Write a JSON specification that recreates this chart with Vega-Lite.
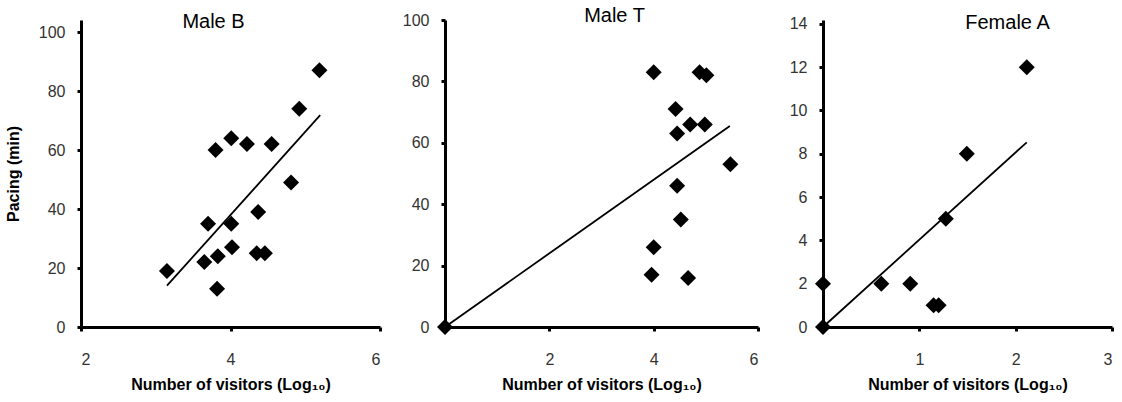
{
  "$schema": "https://vega.github.io/schema/vega-lite/v6.json",
  "background": "white",
  "padding": {"left": 5, "top": 6, "right": 5, "bottom": 5},
  "spacing": 65,
  "bounds": "flush",
  "datasets": {
    "maleB": [
      {"visitors": 3.15, "pacing": 19}, {"visitors": 3.65, "pacing": 22}, {"visitors": 3.70, "pacing": 35},
      {"visitors": 3.80, "pacing": 60}, {"visitors": 3.83, "pacing": 24}, {"visitors": 3.82, "pacing": 13},
      {"visitors": 4.01, "pacing": 64}, {"visitors": 4.01, "pacing": 35}, {"visitors": 4.02, "pacing": 27},
      {"visitors": 4.22, "pacing": 62}, {"visitors": 4.37, "pacing": 39}, {"visitors": 4.35, "pacing": 25},
      {"visitors": 4.46, "pacing": 25}, {"visitors": 4.55, "pacing": 62}, {"visitors": 4.81, "pacing": 49},
      {"visitors": 4.92, "pacing": 74}, {"visitors": 5.19, "pacing": 87}
    ],
    "maleT": [
      {"visitors": 0, "pacing": 0}, {"visitors": 4.00, "pacing": 83}, {"visitors": 4.88, "pacing": 83},
      {"visitors": 5.01, "pacing": 82}, {"visitors": 4.42, "pacing": 71}, {"visitors": 4.45, "pacing": 63},
      {"visitors": 4.70, "pacing": 66}, {"visitors": 4.98, "pacing": 66}, {"visitors": 5.47, "pacing": 53},
      {"visitors": 4.45, "pacing": 46}, {"visitors": 4.52, "pacing": 35}, {"visitors": 4.00, "pacing": 26},
      {"visitors": 3.96, "pacing": 17}, {"visitors": 4.66, "pacing": 16}
    ],
    "femaleA": [
      {"visitors": 0, "pacing": 0}, {"visitors": 0, "pacing": 2}, {"visitors": 0.605, "pacing": 2},
      {"visitors": 0.906, "pacing": 2}, {"visitors": 1.148, "pacing": 1}, {"visitors": 1.20, "pacing": 1},
      {"visitors": 1.275, "pacing": 5}, {"visitors": 1.493, "pacing": 8}, {"visitors": 2.115, "pacing": 12}
    ],
    "trendB": [{"visitors": 3.15, "pacing": 14.0}, {"visitors": 5.20, "pacing": 71.8}],
    "trendT": [{"visitors": 0, "pacing": 0}, {"visitors": 5.46, "pacing": 65.5}],
    "trendA": [{"visitors": 0, "pacing": 0}, {"visitors": 2.115, "pacing": 8.53}]
  },
  "hconcat": [
    {
      "width": 299, "height": 307,
      "title": {"text": "Male B", "dx": -17, "offset": 0, "dy": 11.5},
      "layer": [
        {
          "data": {"name": "trendB"},
          "mark": {"type": "line", "color": "black", "strokeWidth": 1.8},
          "encoding": {
            "x": {"field": "visitors", "type": "quantitative", "scale": {"domain": [2, 6], "nice": false}},
            "y": {"field": "pacing", "type": "quantitative", "scale": {"domain": [0, 104.07], "nice": false}}
          }
        },
        {
          "data": {"name": "maleB"},
          "mark": {"type": "point", "shape": "diamond", "filled": true, "color": "black", "opacity": 1, "size": 256, "clip": false},
          "encoding": {
            "x": {"field": "visitors", "type": "quantitative",
                  "axis": {"values": [2, 4, 6], "format": "d", "title": "Number of visitors (Log₁₀)"}},
            "y": {"field": "pacing", "type": "quantitative",
                  "axis": {"values": [0, 20, 40, 60, 80, 100], "format": "d", "title": "Pacing (min)"}}
          }
        }
      ]
    },
    {
      "width": 313, "height": 307,
      "title": {"text": "Male T", "dx": 13, "offset": 0, "dy": 14},
      "layer": [
        {
          "data": {"name": "trendT"},
          "mark": {"type": "line", "color": "black", "strokeWidth": 1.8},
          "encoding": {
            "x": {"field": "visitors", "type": "quantitative", "scale": {"domain": [0, 6], "nice": false}},
            "y": {"field": "pacing", "type": "quantitative", "scale": {"domain": [0, 100], "nice": false}}
          }
        },
        {
          "data": {"name": "maleT"},
          "mark": {"type": "point", "shape": "diamond", "filled": true, "color": "black", "opacity": 1, "size": 256, "clip": false},
          "encoding": {
            "x": {"field": "visitors", "type": "quantitative",
                  "axis": {"values": [2, 4, 6], "format": "d", "title": "Number of visitors (Log₁₀)"}},
            "y": {"field": "pacing", "type": "quantitative",
                  "axis": {"values": [0, 20, 40, 60, 80, 100], "format": "d", "title": null}}
          }
        }
      ]
    },
    {
      "width": 289, "height": 307,
      "title": {"text": "Female A", "dx": 40, "offset": 0, "dy": 17.5},
      "layer": [
        {
          "data": {"name": "trendA"},
          "mark": {"type": "line", "color": "black", "strokeWidth": 1.8},
          "encoding": {
            "x": {"field": "visitors", "type": "quantitative", "scale": {"domain": [0, 3], "nice": false}},
            "y": {"field": "pacing", "type": "quantitative", "scale": {"domain": [0, 14.18], "nice": false}}
          }
        },
        {
          "data": {"name": "femaleA"},
          "mark": {"type": "point", "shape": "diamond", "filled": true, "color": "black", "opacity": 1, "size": 256, "clip": false},
          "encoding": {
            "x": {"field": "visitors", "type": "quantitative",
                  "axis": {"values": [1, 2, 3], "format": "d", "title": "Number of visitors (Log₁₀)"}},
            "y": {"field": "pacing", "type": "quantitative",
                  "axis": {"values": [0, 2, 4, 6, 8, 10, 12, 14], "format": "d", "title": null}}
          }
        }
      ]
    }
  ],
  "config": {
    "view": {"stroke": null},
    "font": "Liberation Sans",
    "axis": {
      "grid": false,
      "domain": true, "domainColor": "black", "domainWidth": 3,
      "ticks": true, "tickSize": 4, "tickColor": "black", "tickWidth": 3,
      "labelFont": "Liberation Sans", "labelFontSize": 16, "labelColor": "#333333",
      "titleFont": "Liberation Sans", "titleFontSize": 16, "titleFontWeight": "bold", "titleColor": "black"
    },
    "axisX": {"labelPadding": 20, "titlePadding": 9},
    "axisY": {"labelPadding": 12, "titlePadding": 17},
    "title": {"font": "Liberation Sans", "fontSize": 20, "fontWeight": "normal", "color": "black", "frame": "group", "anchor": "middle", "baseline": "alphabetic"}
  }
}
